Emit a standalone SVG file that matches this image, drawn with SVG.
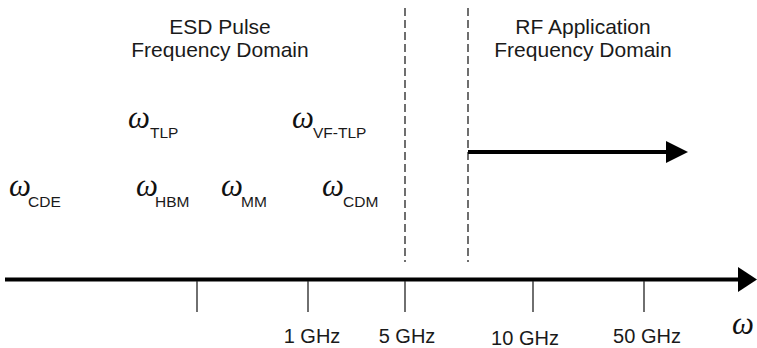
<svg xmlns="http://www.w3.org/2000/svg" width="757" height="348" viewBox="0 0 757 348">
<style>
.t{font-family:"Liberation Sans",Arial,sans-serif;fill:#1a1a1a}
.h{font-size:21px;text-anchor:middle}
.g{font-size:20px;text-anchor:middle}
.w{font-family:"Liberation Serif","Times New Roman",serif;font-style:italic;font-size:31px;fill:#111}
.s{font-family:"Liberation Sans",Arial,sans-serif;font-size:15.5px;fill:#1a1a1a}
.tick{stroke:#222;stroke-width:1.3}
.dash{stroke:#222;stroke-width:1.3;stroke-dasharray:8,4}
</style>
<g id="titles">
<text class="t h" x="220" y="34">ESD Pulse</text>
<text class="t h" x="220" y="57">Frequency Domain</text>
<text class="t h" x="583" y="34">RF Application</text>
<text class="t h" x="583" y="57">Frequency Domain</text>
</g>
<g id="connectors">
<line class="dash" x1="405" y1="8" x2="405" y2="262"/>
<line class="dash" x1="468" y1="8" x2="468" y2="262"/>
<line x1="5" y1="279.5" x2="740" y2="279.5" stroke="#000" stroke-width="4"/>
<path d="M738,267 L757,279.5 L738,292 Z" fill="#000"/>
<line x1="468" y1="152" x2="668" y2="152" stroke="#000" stroke-width="4"/>
<path d="M666,141 L688,152 L666,163 Z" fill="#000"/>
<line class="tick" x1="197" y1="281" x2="197" y2="312"/>
<line class="tick" x1="308" y1="281" x2="308" y2="312"/>
<line class="tick" x1="405" y1="281" x2="405" y2="312"/>
<line class="tick" x1="533" y1="281" x2="533" y2="312"/>
<line class="tick" x1="644" y1="281" x2="644" y2="312"/>
</g>
<g id="ticklabels">
<text class="t g" x="312" y="343">1 GHz</text>
<text class="t g" x="407" y="343">5 GHz</text>
<text class="t g" x="525" y="345">10 GHz</text>
<text class="t g" x="647" y="343">50 GHz</text>
<text class="w" x="732" y="334">ω</text>
</g>
<g id="w-cde"><text class="w" x="9" y="196">ω</text><text class="s" x="28" y="207">CDE</text></g>
<g id="w-tlp"><text class="w" x="128" y="128">ω</text><text class="s" x="150" y="138">TLP</text></g>
<g id="w-vftlp"><text class="w" x="292" y="128">ω</text><text class="s" x="313" y="138">VF-TLP</text></g>
<g id="w-hbm"><text class="w" x="136" y="196">ω</text><text class="s" x="155" y="207">HBM</text></g>
<g id="w-mm"><text class="w" x="221" y="196">ω</text><text class="s" x="241" y="207">MM</text></g>
<g id="w-cdm"><text class="w" x="322" y="196">ω</text><text class="s" x="343" y="207">CDM</text></g>
</svg>
